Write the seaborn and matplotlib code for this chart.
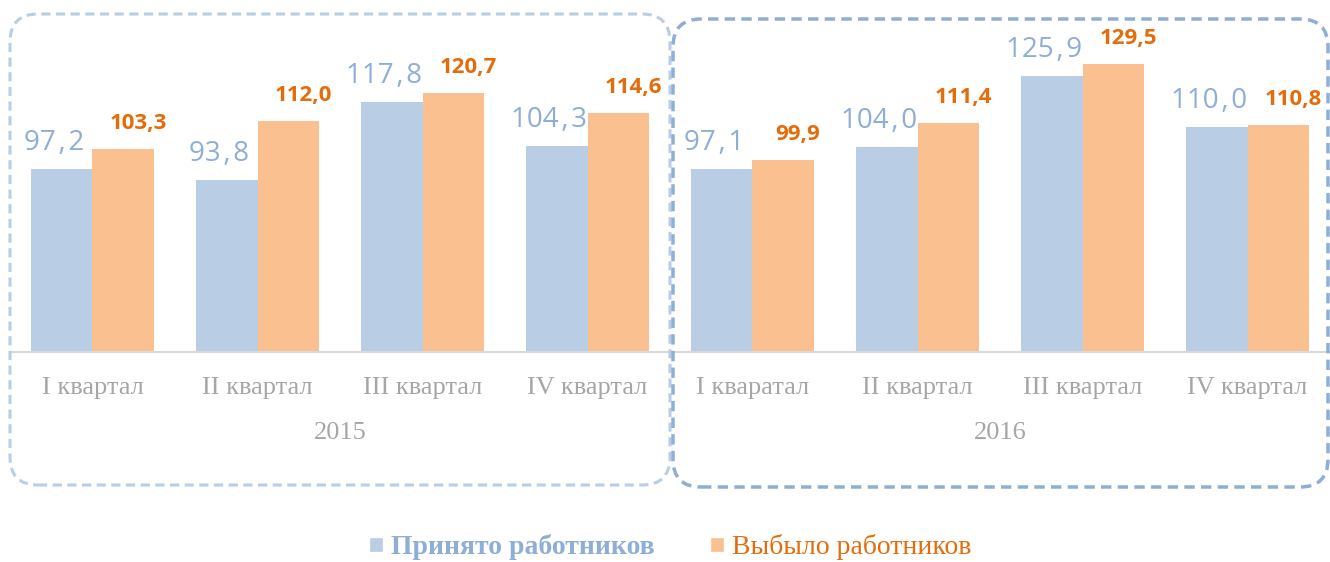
import matplotlib
matplotlib.use("Agg")
import matplotlib.pyplot as plt
import seaborn as sns
import pandas as pd
from matplotlib.patches import FancyBboxPatch, Patch

# данные
years = ["2015", "2016"]
quarters = ["I квартал", "II квартал", "III квартал", "IV квартал",
            "I кваратал", "II квартал", "III квартал", "IV квартал"]
hired = [97.2, 93.8, 117.8, 104.3, 97.1, 104.0, 125.9, 110.0]
quit_ = [103.3, 112.0, 120.7, 114.6, 99.9, 111.4, 129.5, 110.8]
series = ["Принято работников", "Выбыло работников"]

slots = [f"{years[i // 4]}-{i}" for i in range(len(quarters))]
df = pd.DataFrame({
    "slot": slots * 2,
    "value": hired + quit_,
    "series": [series[0]] * len(hired) + [series[1]] * len(quit_),
})

BAR_BLUE = "#b9cde5"
BAR_ORANGE = "#fac090"
TXT_BLUE = "#8faed6"
TXT_ORANGE = "#e46c0a"
GRAY = "#a6a6a6"
LINE = "#d9d9d9"

sns.set_theme(style="white")
plt.rcParams['font.family'] = ['Open Sans', 'DejaVu Sans']

fig = plt.figure(figsize=(13.3, 5.62), dpi=100)
ax = fig.add_axes([10 / 1330, 210 / 562, 1320 / 1330, 352 / 562])

sns.barplot(data=df, x="slot", y="value", hue="series", order=slots,
            hue_order=series, palette=[BAR_BLUE, BAR_ORANGE], width=0.74,
            linewidth=0, saturation=1, legend=False, ax=ax)

ax.set_ylim(40.6, 149.4)
ax.set_xlim(-0.5, 7.5)
ax.set_xlabel("")
ax.set_ylabel("")
ax.set_yticks([])
for s in ["top", "left", "right"]:
    ax.spines[s].set_visible(False)
ax.spines["bottom"].set_color(LINE)
ax.spines["bottom"].set_linewidth(1.5)

# подписи значений
for bar, v in zip(ax.containers[0], hired):
    ax.annotate(f"{v:.1f}".replace(".", "\u200a,\u200a"),
                (bar.get_x() + bar.get_width() / 2, v),
                xytext=(-8, 19), textcoords="offset pixels",
                ha="center", va="baseline", fontsize=20, color=TXT_BLUE,
                family=["Open Sans", "DejaVu Sans"])
for bar, v in zip(ax.containers[1], quit_):
    ax.annotate(f"{v:.1f}".replace(".", ","),
                (bar.get_x() + bar.get_width() / 2, v),
                xytext=(15, 20), textcoords="offset pixels",
                ha="center", va="baseline", fontsize=16, fontweight="bold",
                color=TXT_ORANGE)

# подписи категорий
ax.set_xticks(range(len(quarters)))
ax.set_xticklabels(quarters, fontfamily="Liberation Serif", fontsize=19, color=GRAY)
ax.tick_params(axis="x", which="major", length=0, pad=18)
ax.set_xticks([i - 0.5 for i in range(len(quarters) + 1)], minor=True)
ax.tick_params(axis="x", which="minor", length=35, width=1.5, color=LINE, direction="out")

for i, y in enumerate(years):
    ax.text(1.5 + 4 * i, -81 / 352, y, transform=ax.get_xaxis_transform(),
            ha="center", va="center", fontfamily="Liberation Serif",
            fontsize=19, color=GRAY)

# пунктирные рамки
box1 = FancyBboxPatch((0.10, 0.77), 6.60, 4.71, boxstyle="round,pad=0,rounding_size=0.28",
                      transform=fig.dpi_scale_trans, fill=False, edgecolor=BAR_BLUE,
                      linewidth=2.2, linestyle=(0, (3, 1.8)), clip_on=False)
box2 = FancyBboxPatch((6.73, 0.75), 6.55, 4.68, boxstyle="round,pad=0,rounding_size=0.28",
                      transform=fig.dpi_scale_trans, fill=False, edgecolor=TXT_BLUE,
                      linewidth=2.5, linestyle=(0, (3, 1.8)), clip_on=False)
fig.add_artist(box1)
fig.add_artist(box2)

# легенда
handles = [Patch(facecolor=BAR_BLUE), Patch(facecolor=BAR_ORANGE)]
leg = fig.legend(handles, series, loc="center", bbox_to_anchor=(0.504, 0.026), ncol=2,
                 frameon=False, handlelength=0.5, handleheight=0.5, handletextpad=0.3,
                 columnspacing=2.0, prop={"family": "Liberation Serif", "size": 20})
texts = leg.get_texts()
texts[0].set_color(TXT_BLUE)
texts[0].set_fontweight("bold")
texts[1].set_color(TXT_ORANGE)

fig.savefig("out.png", dpi=100)
